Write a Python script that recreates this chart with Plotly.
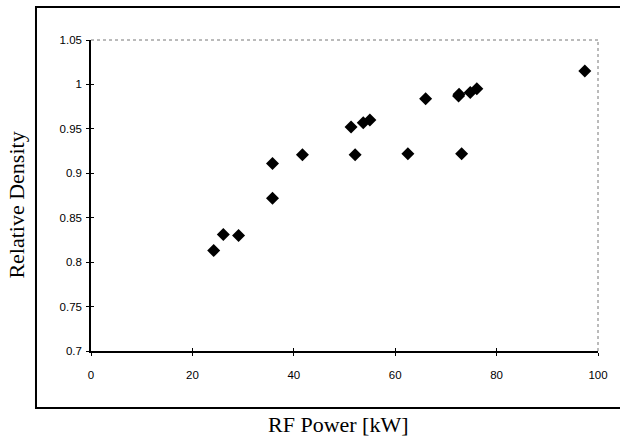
import plotly.graph_objects as go

# Relative density measured at each RF power setting
rf_power_kw = [24.2, 26.1, 29.1, 35.8, 35.8, 41.7, 51.3, 52.1, 53.7, 55.0,
               62.5, 66.0, 72.5, 72.6, 73.1, 74.8, 76.1, 97.4]
relative_density = [0.813, 0.831, 0.830, 0.911, 0.872, 0.921, 0.952, 0.921, 0.957, 0.960,
                    0.922, 0.984, 0.987, 0.989, 0.922, 0.991, 0.995, 1.015]

x_ticks = [0, 20, 40, 60, 80, 100]
y_ticks = [0.7, 0.75, 0.8, 0.85, 0.9, 0.95, 1.0, 1.05]
y_tick_text = ["0.7", "0.75", "0.8", "0.85", "0.9", "0.95", "1", "1.05"]

X_RANGE = [0, 100]
Y_RANGE = [0.7, 1.05]

tick_font = dict(family="Liberation Sans, Arial, sans-serif", size=11.5, color="black")
title_font = dict(family="Liberation Serif, Times New Roman, serif", size=22, color="black")

fig = go.Figure()
fig.add_trace(go.Scatter(
    x=rf_power_kw, y=relative_density, mode="markers",
    marker=dict(symbol="diamond", size=10, color="black", line=dict(width=0)),
    showlegend=False, hoverinfo="x+y",
))

fig.update_layout(
    width=620, height=437,
    margin=dict(l=91, r=13, t=40, b=86),
    paper_bgcolor="white", plot_bgcolor="white",
    xaxis=dict(
        range=X_RANGE, tickvals=x_ticks, ticktext=[str(v) for v in x_ticks],
        showgrid=False, zeroline=False, showline=True, linecolor="black", linewidth=1.5,
        ticks="outside", ticklen=3, tickwidth=1, tickcolor="black",
        tickfont=tick_font, ticklabelstandoff=9,
    ),
    yaxis=dict(
        range=Y_RANGE, tickvals=y_ticks, ticktext=y_tick_text,
        showgrid=False, zeroline=False, showline=True, linecolor="black", linewidth=1.5,
        ticks="outside", ticklen=3, tickwidth=1, tickcolor="black",
        tickfont=tick_font, ticklabelstandoff=2,
    ),
    # inner half of the crossing tick marks
    xaxis2=dict(
        range=X_RANGE, tickvals=x_ticks, overlaying="x", side="bottom", anchor="y",
        showgrid=False, zeroline=False, showline=False, showticklabels=False,
        ticks="inside", ticklen=3, tickwidth=1, tickcolor="black",
    ),
    yaxis2=dict(
        range=Y_RANGE, tickvals=y_ticks, overlaying="y", side="left", anchor="x",
        showgrid=False, zeroline=False, showline=False, showticklabels=False,
        ticks="inside", ticklen=3, tickwidth=1, tickcolor="black",
    ),
)

# dummy trace so the secondary axes get drawn
fig.add_trace(go.Scatter(x=[None], y=[None], xaxis="x2", yaxis="y2",
                         showlegend=False, hoverinfo="skip"))

# dotted border on the top and right of the plot area
fig.add_shape(type="line", xref="paper", yref="paper", x0=0, x1=1, y0=1, y1=1,
              line=dict(color="#777777", width=1, dash="dot"))
fig.add_shape(type="line", xref="paper", yref="paper", x0=1, x1=1, y0=0, y1=1,
              line=dict(color="#777777", width=1, dash="dot"))

# chart-area frame (its right edge runs past the page)
fig.add_shape(type="rect", xref="paper", yref="paper",
              x0=-0.1085, x1=1.2, y0=-0.183, y1=1.106,
              line=dict(color="black", width=2), fillcolor="rgba(0,0,0,0)", layer="below")

fig.add_annotation(text="Relative Density", xref="paper", yref="paper",
                   x=-0.147, y=0.469, xanchor="center", yanchor="middle",
                   textangle=-90, showarrow=False, font=title_font)
fig.add_annotation(text="RF Power [kW]", xref="paper", yref="paper",
                   x=0.488, y=-0.235, xanchor="center", yanchor="middle",
                   showarrow=False, font=title_font)

fig.write_html("out.html")
